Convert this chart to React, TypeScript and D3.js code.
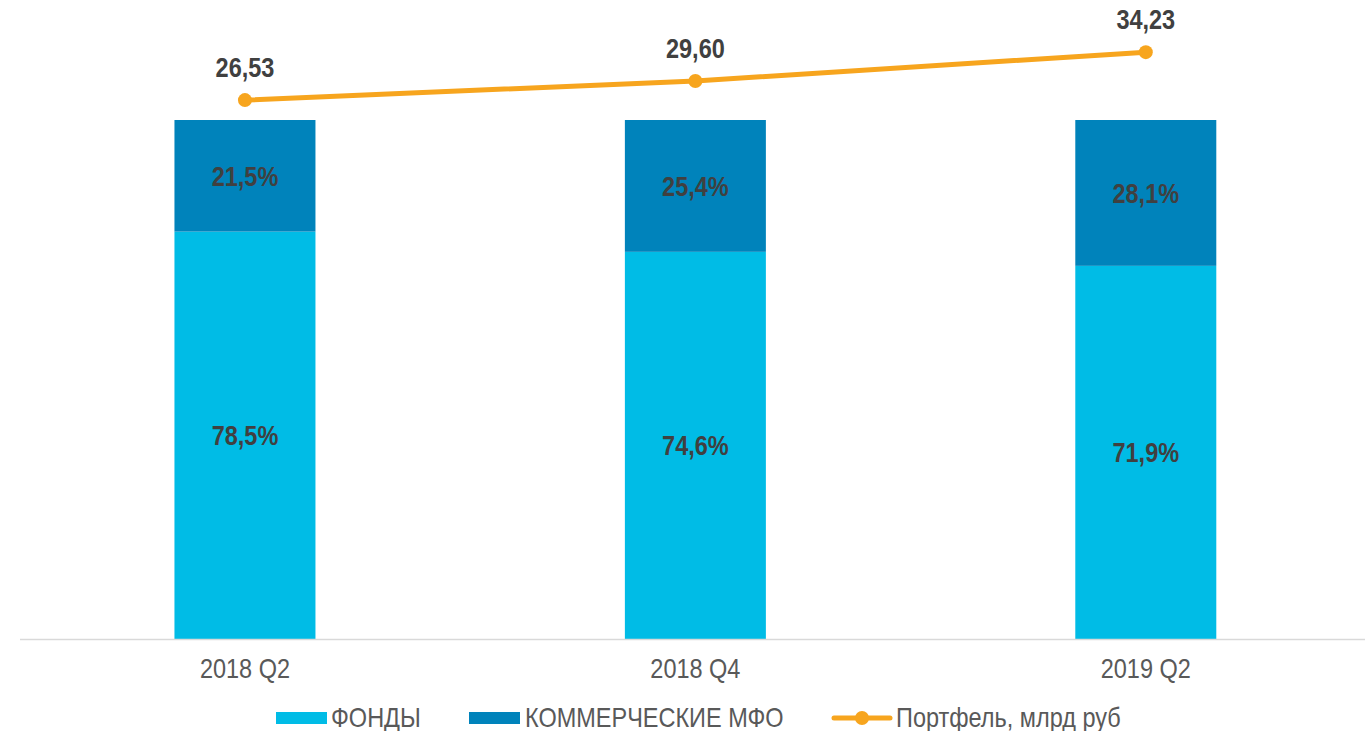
import * as d3 from "d3";

const categories = ["2018 Q2", "2018 Q4", "2019 Q2"];
const funds = [78.5, 74.6, 71.9];
const commercial = [21.5, 25.4, 28.1];
const portfolio = [26.53, 29.6, 34.23];

const fmt = (v: number, digits: number) => v.toFixed(digits).replace(".", ",");

// text in the source picture is a bit stretched vertically
const STRETCH = 1.17;

function Label(props: {
  x: number;
  y: number;
  children: any;
  anchor?: string;
  bold?: boolean;
  fill: string;
}) {
  const { x, y, children, anchor = "middle", bold = false, fill } = props;
  return (
    <text
      transform={`translate(${x},${y}) scale(1,${STRETCH})`}
      textAnchor={anchor}
      fontSize={23.5}
      fontWeight={bold ? "bold" : "normal"}
      fill={fill}
    >
      {children}
    </text>
  );
}

export default function App() {
  const width = 1365;
  const height = 731;
  const font = "'Liberation Sans', Arial, sans-serif";
  const cyan = "#00BCE6";
  const blue = "#0083BB";
  const orange = "#F7A51E";
  const textDark = "#404040";
  const textGrey = "#595959";

  const x = d3.scaleBand<string>().domain(categories).range([19.75, 1371]).padding(0);
  const barW = 141;
  const yPct = d3.scaleLinear().domain([0, 100]).range([639, 120]);
  const yLine = d3.scaleLinear().domain([0, 40]).range([265.4, 16.2]);

  const cx = (c: string) => (x(c) as number) + x.bandwidth() / 2;
  const half = 0.716 * 23.5 * STRETCH * 0.5;

  const line = d3
    .line<number>()
    .x((_, i) => cx(categories[i]))
    .y((d) => yLine(d));

  return (
    <svg width={width} height={height} style={{ position: "absolute", left: 0, top: 0 }} fontFamily={font}>
      <rect width={width} height={height} fill="#fff" />
      {categories.map((c, i) => {
        const x0 = cx(c) - barW / 2;
        const fTop = yPct(funds[i]);
        const cTop = yPct(funds[i] + commercial[i]);
        return (
          <g key={c}>
            <rect x={x0} y={fTop} width={barW} height={yPct(0) - fTop} fill={cyan} />
            <rect x={x0} y={cTop} width={barW} height={fTop - cTop} fill={blue} />
            <Label x={cx(c)} y={(fTop + yPct(0)) / 2 + half} bold fill={textDark}>
              {fmt(funds[i], 1)}%
            </Label>
            <Label x={cx(c)} y={(cTop + fTop) / 2 + half} bold fill={textDark}>
              {fmt(commercial[i], 1)}%
            </Label>
            <Label x={cx(c)} y={678} fill={textGrey}>
              {c}
            </Label>
          </g>
        );
      })}
      <line x1={20} x2={1365} y1={639.5} y2={639.5} stroke="#D9D9D9" strokeWidth={1.5} />
      <path d={line(portfolio) ?? ""} fill="none" stroke={orange} strokeWidth={5} strokeLinecap="round" />
      {portfolio.map((v, i) => (
        <g key={i}>
          <circle cx={cx(categories[i])} cy={yLine(v)} r={7} fill={orange} />
          <Label x={cx(categories[i])} y={yLine(v) - 23} bold fill={textDark}>
            {fmt(v, 2)}
          </Label>
        </g>
      ))}
      <rect x={276} y={712} width={51} height={12} fill={cyan} />
      <Label x={331} y={727} anchor="start" fill={textGrey}>ФОНДЫ</Label>
      <rect x={469} y={712} width={51} height={12} fill={blue} />
      <Label x={525} y={727} anchor="start" fill={textGrey}>КОММЕРЧЕСКИЕ МФО</Label>
      <line x1={834} x2={890} y1={718} y2={718} stroke={orange} strokeWidth={5} strokeLinecap="round" />
      <circle cx={862} cy={718} r={7} fill={orange} />
      <Label x={896} y={727} anchor="start" fill={textGrey}>Портфель, млрд руб</Label>
    </svg>
  );
}
